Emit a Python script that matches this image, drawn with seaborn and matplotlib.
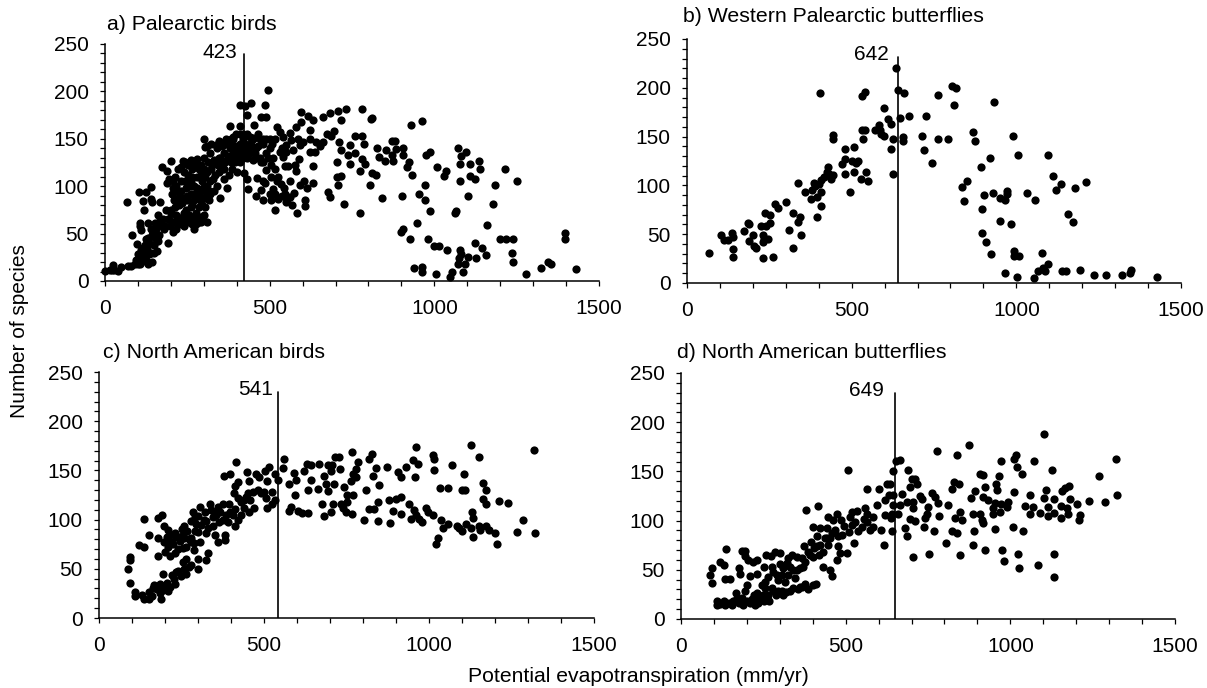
import matplotlib
matplotlib.use("Agg")
import matplotlib.pyplot as plt
import pandas as pd
import seaborn as sns
from matplotlib.ticker import MultipleLocator

# points: (potential evapotranspiration, number of species)
pal_birds_left = [
    (0,11),(15,12),(22,12),(25,17),(28,12),(40,11),(50,15),(70,16),(80,16),(90,18),(95,22),(100,18),(105,25),
    (110,20),(115,28),(120,30),(125,22),(130,18),(105,18),(140,30),(116,25),(144,20),(157,32),(81,48),(98,39),
    (106,61),(109,54),(107,58),(131,61),(152,61),(124,44),(147,50),(152,45),(162,42),(192,40),(66,83),(104,94),
    (125,94),(140,99),(114,84),(140,87),(142,83),(119,75),(167,83),(162,70),(200,127),(172,120),(187,116),
    (189,103),(202,92),(238,127),(185,75),(200,72),(170,60),(160,58),(205,52),(240,58),(180,55),(195,65),
    (200,75),(210,85),(215,70),(220,95),(225,80),(230,105),(235,88),(240,72),(240,115),(245,98),(250,65),
    (250,85),(255,108),(260,78),(260,92),(265,60),(265,118),(270,85),(270,100),(275,72),(280,110),(285,62),
    (285,92),(290,122),(295,80),(295,105),(300,70),(300,130),(305,95),(310,115),(315,85),(320,105),(325,122),
    (330,95),(335,112),(340,100),(345,130),(350,88),(355,118),(360,108),(365,125),(370,98),(375,112),(385,118),
    (395,125),(400,115),(410,125),(420,130),(310,62),(305,78),(270,55),(275,60),(255,62),(215,55),(225,60),
    (245,75),(255,70),(265,80),(275,90),(285,78),(290,68),(300,88),(310,100),(265,110),(285,118),(250,100),
    (320,92),(305,110),(278,129),(258,124),(303,141),(337,143),(364,144),(389,152),(420,155),(450,151),
    (400,140),(410,145),(420,150),(430,155),(440,145),(450,150),(460,140),(470,150),(480,145),(490,135),
    (500,140),(510,130),(420,135),(430,130),(440,135),(450,128),(460,130),(410,130),(400,128),(390,135),
    (380,140),(370,128),(375,145),(360,135),(390,150),(470,130),(480,125),(350,130),(340,140),(335,125),
    (320,135),(300,150),(435,140),(445,142),(425,145),(415,138),(455,135),(465,142),(405,135),(395,142),
]
pal_birds_band = [
    (100,28),(108,33),(115,35),(120,38),(128,35),(135,40),(142,48),(150,38),(158,45),(165,48),(135,28),(125,30),
    (150,30),(112,26),(130,45),(140,55),(155,55),(165,62),(175,65),(182,58),(190,65),(198,58),(208,62),(218,68),
    (228,66),(238,65),(246,68),(262,68),(272,65),(282,68),(292,62),(235,82),(248,90),(258,100),(268,92),(222,88),
    (212,78),(232,95),(242,105),(252,112),(262,105),(278,98),(288,85),(298,98),(305,88),(315,95),(328,108),(345,115),
    (352,125),(362,118),(372,132),(382,125),(390,128),(402,132),(312,125),(322,118),(332,128),(342,122),(290,112),
    (300,118),(272,122),(262,128),(252,122),(242,125),(232,120),(222,118),(212,110),(205,105),(195,108),(215,100),
    (205,98),(310,142),(322,145),(345,148),(355,142),(368,150),(382,150),(398,155),(410,155),(440,152),(465,155),
    (480,150),(500,150),(508,145),(495,130),(505,122),(515,118),(525,110),(535,102),(545,98),(555,88),
]
pal_birds_mid = [
    (495,201),(442,188),(411,186),(425,185),(485,186),(475,173),(490,173),(453,165),(430,175),(379,164),(411,164),
    (523,162),(531,157),(422,114),(430,108),(435,97),(457,90),(463,109),(480,106),(485,103),(475,96),(480,85),
    (505,85),(526,87),(516,75),(546,92),(551,83),(568,80),(583,72),(607,85),(607,79),(573,93),(563,105),(591,101),
    (612,98),(632,103),(604,106),(632,121),(578,122),(579,116),(589,129),(546,121),(556,121),(511,97),(505,110),
    (521,105),(490,117),(475,126),(500,92),(516,92),(536,90),(561,89),(536,140),(551,143),(566,149),(586,150),
    (602,147),(622,150),(642,147),(662,147),(652,142),(637,136),(622,136),(591,143),(571,138),(551,136),(541,131),
    (531,136),(561,156),(541,152),(516,150),(490,150),(595,178),(684,177),(706,179),(732,181),(779,181),(811,172),
    (807,171),(717,170),(662,173),(616,174),(632,170),(596,168),(581,162),(622,159),(695,158),(675,155),(687,153),
    (758,153),(779,153),(786,145),(711,147),(705,125),(743,123),(789,123),(779,129),(738,133),(718,138),(743,143),
    (758,135),(678,94),(684,89),(726,81),(773,72),(806,101),(822,112),(812,114),(773,116),(718,111),(705,110),(708,101),
]
pal_birds_right = [
    (929,165),(964,169),(870,148),(880,148),(827,140),(905,140),(885,139),(854,138),(986,136),(974,133),(1072,140),
    (1097,136),(1082,132),(1135,127),(1077,123),(1109,123),(1140,118),(1214,118),(1009,120),(1034,116),(1028,111),
    (1107,111),(1124,108),(1077,106),(1252,106),(1183,101),(971,101),(954,92),(901,90),(842,88),(1102,90),(971,85),
    (1177,81),(986,74),(1067,74),(1062,72),(832,131),(849,127),(875,127),(870,133),(905,133),(923,125),(917,120),
    (932,112),(948,61),(905,55),(900,52),(927,44),(981,44),(998,37),(1013,37),(1039,33),(1077,33),(1082,29),(1102,25),
    (1075,24),(1072,18),(1092,18),(1127,24),(1124,40),(1145,35),(1156,27),(1160,59),(1198,44),(1219,44),(1240,44),
    (1235,30),(1240,20),(1277,7),(1324,14),(1345,20),(1353,18),(1398,51),(1398,44),(1431,13),(937,14),(964,15),(964,9),
    (1006,7),(1055,9),(1048,4),(1087,9),
]
wp_butterflies = [
    (67,31),(104,49),(112,44),(124,44),(136,51),(140,47),(141,35),(141,27),(172,53),(185,61),(188,60),(199,49),(188,43),
    (203,38),(211,36),(226,58),(239,58),(251,61),(236,72),(253,70),(231,49),(234,45),(246,45),(231,42),(231,26),(262,27),
    (267,81),(277,77),(301,83),(311,54),(322,72),(321,36),(337,63),(342,68),(347,49),(338,102),(359,93),(375,86),(380,95),
    (386,102),(390,99),(403,195),(396,68),(406,79),(396,88),(406,93),(400,101),(408,106),(416,109),(428,119),(425,114),
    (431,112),(443,111),(438,107),(443,152),(443,148),(471,122),(481,127),(481,137),(507,139),(481,112),(501,125),(520,125),
    (513,123),(507,114),(496,93),(529,107),(545,114),(550,104),(530,192),(541,196),(530,157),(541,157),(535,148),(572,157),
    (582,162),(585,157),(588,153),(599,151),(599,179),(610,168),(620,163),(625,148),(620,137),(625,112),(636,220),(641,198),
    (658,195),(646,169),(673,171),(656,150),(656,145),(725,171),(714,151),(720,136),(745,123),(763,193),(762,148),(794,148),
    (805,202),(816,200),(810,182),(868,155),(873,146),(933,185),(990,151),(1006,131),(921,128),(894,119),(851,105),(835,98),
    (840,84),(903,90),(930,92),(950,87),(966,85),(973,94),(972,91),(897,76),(950,64),(983,60),(897,51),(909,42),(924,30),
    (994,33),(994,28),(1009,28),(965,10),(1003,6),(1031,92),(1057,85),(1095,131),(1110,110),(1136,101),(1120,95),(1179,97),
    (1211,103),(1158,71),(1173,62),(1078,31),(1097,19),(1082,15),(1067,12),(1087,12),(1055,5),(1140,12),(1151,12),(1194,13),
    (1236,8),(1272,8),(1321,8),(1348,13),(1346,10),(1428,6),
]
na_birds_right = [
    (1317,171),(1127,176),(962,174),(1153,164),(1011,166),(1016,162),(950,161),(968,157),(1069,155),(1016,150),(957,143),
    (1105,146),(1164,137),(1032,132),(1058,132),(1099,130),(1109,130),(1174,130),(1164,121),(1174,116),(1211,119),(1238,117),
    (1284,100),(1268,87),(1322,86),(1205,75),(1200,86),(1132,82),(1021,75),(1026,81),(1131,108),(1132,102),(1041,91),(1037,100),
    (1058,96),(1086,94),(1111,96),(1091,91),(1101,88),(1126,91),(1152,94),(1154,89),(1172,93),(1182,89),(1011,105),(996,108),
    (991,112),(978,98),(945,101),(960,105),(970,101),(955,110),(940,116),(915,123),(900,121),(880,120),(915,106),(890,109),
    (883,97),(844,99),(804,100),(819,111),(834,111),(844,118),(809,130),(849,135),(829,144),(839,152),(873,153),(930,153),
    (905,148),(915,143),(819,162),(826,167),(768,169),(715,164),(726,164),(784,159),(779,151),(731,151),(705,155),(693,155),
    (666,157),(629,157),(643,155),(622,149),(683,144),(703,149),(769,146),(779,143),(764,139),(743,133),(713,136),(688,136),
    (693,129),(663,131),(634,130),(643,140),(594,125),(577,136),(597,140),(590,147),(562,162),(557,152),(582,113),(577,109),
    (602,109),(614,107),(634,107),(683,104),(703,108),(677,116),(709,116),(733,116),(738,112),(751,118),(753,125),(771,125),
    (748,108),(767,106),
]
na_birds_left = [
    (416,159),(398,146),(379,144),(448,148),(476,146),(486,143),(456,139),(509,139),(504,149),(516,153),(534,146),(541,140),
    (525,128),(534,120),(523,116),(509,112),(481,130),(491,127),(506,122),(466,128),(453,127),(446,123),(439,120),(458,120),
    (421,138),(411,134),(408,127),(421,122),(431,118),(456,108),(305,113),(285,108),(290,103),(280,99),(295,96),(259,93),
    (300,87),(325,99),(340,110),(360,113),(375,116),(395,116),(411,111),(431,105),(405,105),(411,93),(375,100),(365,98),(390,98),
    (345,94),(330,91),(325,86),(350,84),(381,84),(360,77),(381,79),(305,77),(280,81),(254,84),(229,86),(209,89),(197,94),(191,105),
    (180,102),(136,101),(151,84),(179,81),(121,74),(136,72),(179,63),(93,62),(93,59),(88,50),(93,36),(198,77),(219,77),(239,82),
    (259,81),(280,77),(254,71),(229,66),(199,67),(214,63),(289,69),(300,60),(330,66),(325,59),(264,60),(254,57),(280,54),(300,50),
    (264,45),(249,43),(234,47),(227,40),(229,35),(194,45),(209,27),(184,35),(168,34),(163,30),(153,26),(194,28),(108,26),(108,22),
    (130,23),(136,19),(153,19),(189,19),(160,22),(175,29),(205,36),(345,103),(320,108),(300,104),(355,105),(335,116),
    (210,72),(225,75),(240,70),(245,78),(265,72),(272,80),(288,76),(205,82),(215,84),(232,82),(268,88),(250,90),(290,88),
    (170,30),(185,25),(200,33),(215,32),(240,48),(222,44),(258,50),(272,52),(310,95),(318,100),(350,108),(368,108),(385,105),
    (398,108),(420,100),(440,112),(470,112),(500,128),
]
na_butterflies_right = [
    (1103,188),(876,177),(776,171),(839,167),(1320,163),(1017,167),(1012,163),(972,161),(1071,161),(1019,154),(1034,147),(1128,151),
    (1270,145),(908,147),(918,146),(966,145),(955,137),(960,131),(829,139),(844,137),(824,132),(923,134),(893,130),(880,123),(918,124),
    (933,121),(1012,129),(1061,126),(1108,131),(1102,123),(1134,122),(1156,130),(1166,133),(1177,135),(1181,122),(1202,117),(1239,120),
    (1286,119),(1324,126),(1212,106),(1207,101),(1176,107),(1154,103),(1171,113),(1154,115),(1134,108),(1113,114),(1113,105),(1090,108),
    (1070,114),(1060,107),(1044,115),(994,119),(991,114),(972,117),(969,109),(953,118),(948,113),(948,107),(908,107),(888,107),(913,101),
    (918,98),(891,89),(953,91),(1007,94),(1038,89),(847,109),(854,101),(832,103),(812,116),(783,105),(751,114),(746,107),(741,103),(761,128),
    (771,124),(781,118),(725,125),(733,122),(705,119),(705,113),(685,119),(696,134),(718,137),(700,142),(710,142),(690,151),(665,162),(653,161),
    (644,150),(670,127),(665,116),(695,102),(712,100),(738,93),(769,89),(822,89),(839,87),(806,77),(754,66),(705,63),(685,84),(680,92),(847,65),
    (886,75),(922,70),(975,70),(980,59),(1022,66),(1027,52),(1085,55),(1133,66),(1132,43),
]
na_butterflies_left = [
    (506,151),(564,132),(601,132),(626,137),(635,137),(645,126),(632,126),(619,121),(594,116),(645,116),(658,107),(640,107),(619,106),(639,103),
    (640,89),(606,90),(616,75),(559,113),(584,104),(564,107),(564,99),(584,94),(549,94),(533,110),(518,109),(513,104),(528,99),(538,89),(511,88),
    (526,77),(475,107),(447,104),(462,101),(485,101),(380,111),(416,115),(400,93),(422,92),(442,92),(457,87),(478,84),(488,85),(452,82),(412,84),
    (437,82),(394,78),(374,74),(412,74),(447,75),(478,74),(483,67),(505,67),(473,60),(432,68),(418,65),(387,68),(402,63),(432,53),(452,50),(457,44),
    (409,36),(402,35),(377,36),(361,33),(356,30),(331,28),(311,24),(295,28),(306,28),(280,28),(265,24),(267,18),(371,53),(351,50),(366,62),(377,58),
    (351,63),(336,65),(326,62),(321,57),(331,53),(300,56),(306,45),(290,45),(275,53),(280,48),(265,43),(255,38),(245,35),(255,31),(300,67),(285,68),
    (273,64),(258,65),(253,53),(230,60),(220,58),(204,60),(194,64),(184,69),(194,69),(136,71),(118,58),(132,55),(93,52),(88,45),(93,37),(134,41),(150,41),
    (176,52),(178,46),(209,44),(230,46),(199,35),(166,26),(194,28),(230,26),(250,24),(223,24),(108,18),(108,14),(132,18),(134,14),(154,14),(159,18),(169,21),
    (187,14),(184,21),(199,18),(209,16),(225,14),(227,18),(240,21),(118,15),(145,16),(175,16),(215,20),(235,16),(252,18),(262,22),(275,32),(288,24),
    (318,27),(340,32),(368,33),(385,30),(340,50),(310,52),(295,40),(315,38),(325,45),(345,42),(360,52),(392,65),(405,72),(422,75),(442,82),(468,90),
    (495,95),(520,96),(555,102),(575,90),
]

titles = ["a) Palearctic birds", "b) Western Palearctic butterflies", "c) North American birds", "d) North American butterflies"]
peaks = [423, 642, 541, 649]
peak_tops = [239, 232, 230, 230]
point_sets = [
    pal_birds_left + pal_birds_band + pal_birds_mid + pal_birds_right,
    wp_butterflies,
    na_birds_left + na_birds_right,
    na_butterflies_left + na_butterflies_right,
]

W, H = 1207, 688
# axes box in pixels: left, right, y of 0, y of 250
boxes = [(105, 599, 281, 44), (687, 1181, 283, 39), (99, 594, 618, 372), (681, 1175, 619, 373)]
title_pos = [(107, 25), (683, 17), (103, 352), (677, 352)]
peak_label_x = [-20, -28, -14, -32]

sns.set_style("ticks")
plt.rcParams["font.family"] = ["Liberation Sans", "DejaVu Sans"]
plt.rcParams["text.color"] = "black"
plt.rcParams["xtick.labelcolor"] = "black"
plt.rcParams["ytick.labelcolor"] = "black"

fig = plt.figure(figsize=(W / 100, H / 100), dpi=100)

for i in range(4):
    l, r, y0, y1 = boxes[i]
    ax = fig.add_axes([l / W, 1 - y0 / H, (r - l) / W, (y0 - y1) / H])
    df = pd.DataFrame(point_sets[i], columns=["pet", "species"])
    sns.scatterplot(data=df, x="pet", y="species", ax=ax, color="black", s=35, linewidth=0, clip_on=False, zorder=3)
    ax.plot([peaks[i], peaks[i]], [0, peak_tops[i]], color="black", lw=1.2)
    ax.text(peaks[i] + peak_label_x[i], peak_tops[i] + 2, str(peaks[i]), ha="right", va="center", fontsize=15)
    ax.set_xlim(0, 1500)
    ax.set_ylim(0, 250)
    ax.set_xlabel("")
    ax.set_ylabel("")
    ax.xaxis.set_major_locator(MultipleLocator(500))
    ax.xaxis.set_minor_locator(MultipleLocator(100))
    ax.yaxis.set_major_locator(MultipleLocator(50))
    ax.yaxis.set_minor_locator(MultipleLocator(10))
    ax.tick_params(which="both", length=3.8, width=0.9, color="black", labelsize=15)
    ax.tick_params(axis="y", which="major", pad=8)
    ax.tick_params(axis="x", which="major", pad=9.5)
    sns.despine(ax=ax)
    for side in ["left", "bottom"]:
        ax.spines[side].set_linewidth(1.1)
        ax.spines[side].set_color("black")
    fig.text(title_pos[i][0] / W, 1 - title_pos[i][1] / H, titles[i], ha="left", va="center", fontsize=15.3)

fig.text(20 / W, 1 - 331 / H, "Number of species", rotation=90, ha="center", va="center", fontsize=15)
fig.text(638 / W, 1 - 676 / H, "Potential evapotranspiration (mm/yr)", ha="center", va="center", fontsize=15.2)

fig.savefig("out.png", dpi=100)
